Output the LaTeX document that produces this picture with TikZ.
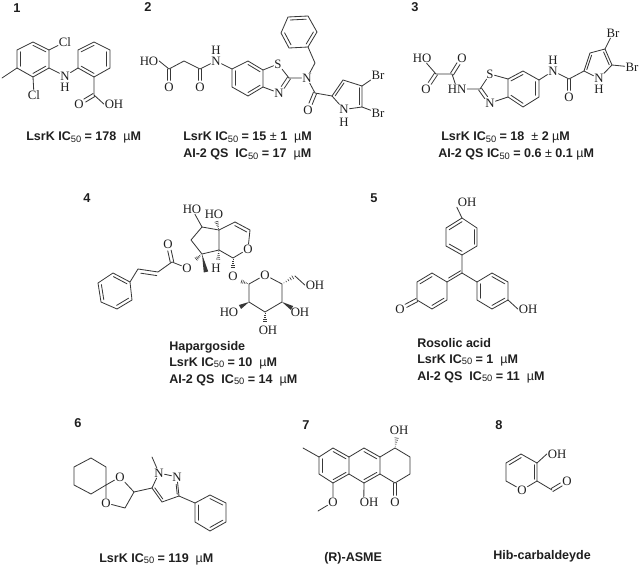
\documentclass[tikz,border=0pt]{standalone}
\usepackage{fontspec}
\setmainfont{Liberation Sans}
\newfontfamily\atomfont{Liberation Serif}
\usetikzlibrary{calc}
\definecolor{ink}{gray}{0.12}
\definecolor{bondc}{gray}{0.22}
\tikzset{
  bond/.style={draw=bondc,line width=0.62pt,line cap=round,line join=round},
  atom/.style={font=\atomfont\fontsize{9.6}{10}\selectfont,text=ink,inner sep=0.5pt},
  capt/.style={font=\bfseries\fontsize{9.4}{12}\selectfont,text=ink,anchor=base west,inner sep=0pt},
  num/.style={font=\bfseries\fontsize{9.6}{12}\selectfont,text=ink,inner sep=0pt}
}
\newcommand\icf{IC\raisebox{-.3ex}{\fontsize{7}{8}\selectfont\mdseries 50}}
\newcommand\um{{\mdseries µ}M}
\newcommand\pmm{{\mdseries ±}}
\newcommand\Pt[3]{\coordinate (#1) at (#2,#3);}
\newcommand\At[4]{\node[atom] (#1) at (#2,#3) {#4};}
% inner line of a double bond, toward reference point
\newcommand\Dbl[3]{\draw[bond] ($(#1)!0.2!(#3)$) -- ($(#2)!0.2!(#3)$);}
% double bond from a vertex to a hetero atom label
\newcommand\DO[2]{\draw[bond,shorten >=5pt] ($(#1)!1.3pt!90:(#2)$) -- ($(#2)!1.3pt!-90:(#1)$);
  \draw[bond,shorten >=5pt] ($(#1)!1.3pt!-90:(#2)$) -- ($(#2)!1.3pt!90:(#1)$);}
\newcommand\Wdg[2]{\fill[bondc] (#1) -- ($(#2)!1.7pt!90:(#1)$) -- ($(#2)!1.7pt!-90:(#1)$) -- cycle;}
\newcommand\Hsh[2]{\foreach \f in {0.15,0.32,0.49,0.66,0.83,1}{
  \draw[draw=bondc,line width=0.45pt] ($(#1)!\f!(#2)!{\f*1.8pt}!90:(#2)$) -- ($(#1)!\f!(#2)!{\f*1.8pt}!-90:(#2)$);}}
\begin{document}
\begin{tikzpicture}[x=0.75pt,y=-0.75pt]
\useasboundingbox (0,0) rectangle (640,567);
\fill[white] (0,0) rectangle (640,567);

%% ---------- numbers
\node[num] (n1) at (17,8) {1};
\node[num] (n2) at (148,7) {2};
\node[num] (n3) at (415,7) {3};
\node[num] (n4) at (87,198) {4};
\node[num] (n5) at (374,198) {5};
\node[num] (n6) at (78,423) {6};
\node[num] (n7) at (306,425) {7};
\node[num] (n8) at (499,425) {8};

%% ---------- compound 1
\Pt{a1}{17}{50}\Pt{a2}{33}{42}\Pt{a3}{49}{50}\Pt{a4}{49}{68}\Pt{a5}{33}{77}\Pt{a6}{17}{68}\Pt{ac}{33}{59}
\Pt{am}{2}{78}
\At{acl1}{65}{42}{Cl}\At{acl2}{34}{95}{Cl}\At{an}{65}{76}{N}\At{anh}{65}{87}{H}
\Pt{b1}{78}{68}\Pt{b2}{78}{50}\Pt{b3}{94}{42}\Pt{b4}{110}{50}\Pt{b5}{110}{68}\Pt{b6}{94}{77}\Pt{bc}{94}{59}
\Pt{bk}{94}{95}\At{bo}{79}{104}{O}\At{boh}{114}{104}{OH}
\draw[bond] (a1)--(a2)--(a3)--(a4)--(a5)--(a6)--cycle;
\Dbl{a2}{a3}{ac}\Dbl{a1}{a6}{ac}\Dbl{a4}{a5}{ac}
\draw[bond] (a6)--(am);
\draw[bond] (a3)--(acl1);\draw[bond] (a5)--(acl2);
\draw[bond] (a4)--(an)--(b1);
\draw[bond] (b1)--(b2)--(b3)--(b4)--(b5)--(b6)--cycle;
\Dbl{b2}{b3}{bc}\Dbl{b4}{b5}{bc}\Dbl{b1}{b6}{bc}
\draw[bond] (b6)--(bk)--(boh.west);
\DO{bk}{bo}
\node[capt] (t1a) at (26,141) {LsrK \icf{} = 178\ \ \um};

%% ---------- compound 2
\At{cho}{149}{61}{HO}\Pt{c1}{169}{69}\At{co1}{169}{87}{O}\Pt{c2}{184}{61}\Pt{c3}{200}{69}\At{co2}{200}{87}{O}
\At{cn}{216}{61}{N}\At{cnh}{216}{50}{H}
\Pt{d1}{232}{69}\Pt{d2}{248}{61}\Pt{d3}{263}{70}\Pt{d4}{263}{87}\Pt{d5}{248}{96}\Pt{d6}{232}{87}\Pt{dc}{248}{78.500}
\At{ds}{278}{64}{S}\Pt{d7}{289}{78}\At{dn}{279}{93}{N}\At{dn2}{307}{78}{N}
\Pt{d8}{315}{63}
\Pt{e1}{281}{33}\Pt{e2}{288}{17}\Pt{e3}{308}{16}\Pt{e4}{317}{32}\Pt{e5}{308}{47}\Pt{e6}{289}{48}\Pt{ec}{299}{32}
\Pt{f1}{315}{93}\At{fo}{308}{110}{O}
\Pt{g1}{332}{96}\Pt{g2}{343}{80}\Pt{g3}{362}{86}\Pt{g4}{362}{107}\At{gn}{344}{109.500}{N}\At{gnh}{344}{122}{H}\Pt{gc}{348}{95}
\At{gb1}{378}{75}{Br}\At{gb2}{378}{113}{Br}
\draw[bond] (cho.east)--(c1)--(c2)--(c3)--(cn)--(d1);
\DO{c1}{co1}\DO{c3}{co2}
\draw[bond] (d1)--(d2)--(d3)--(d4)--(d5)--(d6)--cycle;
\Dbl{d1}{d6}{dc}\Dbl{d2}{d3}{dc}\Dbl{d4}{d5}{dc}
\draw[bond] (d3)--(ds)--(d7);\draw[bond] (d4)--(dn);
\DO{d7}{dn}
\draw[bond] (d7)--(dn2)--(d8)--(e5);
\draw[bond] (e1)--(e2)--(e3)--(e4)--(e5)--(e6)--cycle;
\Dbl{e2}{e3}{ec}\Dbl{e4}{e5}{ec}\Dbl{e6}{e1}{ec}
\draw[bond] (dn2)--(f1)--(g1);
\DO{f1}{fo}
\draw[bond] (g1)--(g2)--(g3)--(g4)--(gn)--(g1);
\Dbl{g1}{g2}{gc}\Dbl{g3}{g4}{gc}
\draw[bond] (g3)--(gb1);\draw[bond] (g4)--(gb2);
\node[capt] (t2a) at (183,141) {LsrK \icf{} = 15 \pmm{} 1\ \ \um};
\node[capt] (t2b) at (183,158) {AI-2 QS\ \ \icf{} = 17\ \ \um};

%% ---------- compound 3
\At{hho}{422}{58}{HO}\Pt{h1}{436}{74}\At{ho1}{426}{89}{O}\Pt{h2}{452}{74}\At{ho2}{462}{58}{O}
\At{hn}{457}{89}{HN}\Pt{h3}{480}{89}\At{hs}{490}{74}{S}\At{hn2}{490}{103}{N}
\Pt{i1}{508}{79}\Pt{i2}{523}{71}\Pt{i3}{539}{80}\Pt{i4}{539}{97}\Pt{i5}{523}{107}\Pt{i6}{508}{97}\Pt{ic}{523}{88.500}
\At{in}{553}{71}{N}\At{inh}{553}{60}{H}\Pt{j1}{569}{79}\At{jo}{569}{97}{O}
\Pt{k1}{584}{71}\Pt{k2}{590}{53}\Pt{k3}{605}{49}\Pt{k4}{612}{65}\At{kn}{599}{78.500}{N}\At{knh}{599}{89.500}{H}\Pt{kc}{598}{64}
\At{kb1}{613}{33}{Br}\At{kb2}{632}{67}{Br}
\draw[bond] (hho)--(h1)--(h2)--(hn);
\DO{h1}{ho1}\DO{h2}{ho2}
\draw[bond] (hn.east)--(h3)--(hs)--(i1);
\DO{h3}{hn2}
\draw[bond] (hn2)--(i6);
\draw[bond] (i1)--(i2)--(i3)--(i4)--(i5)--(i6)--cycle;
\Dbl{i1}{i2}{ic}\Dbl{i3}{i4}{ic}\Dbl{i5}{i6}{ic}
\draw[bond] (i3)--(in)--(j1)--(k1);
\DO{j1}{jo}
\draw[bond] (k1)--(k2)--(k3)--(k4)--(kn)--(k1);
\Dbl{k1}{k2}{kc}\Dbl{k3}{k4}{kc}
\draw[bond] (k3)--(kb1);\draw[bond] (k4)--(kb2);
\node[capt] (t3a) at (441,141) {LsrK \icf{} = 18\ \ \pmm{} 2 \um};
\node[capt] (t3b) at (438,158) {AI-2 QS \icf{} = 0.6 \pmm{} 0.1 \um};

%% ---------- compound 4
\Pt{p1}{113}{273}\Pt{p2}{130}{282}\Pt{p3}{132}{300}\Pt{p4}{117}{309}\Pt{p5}{101}{302}\Pt{p6}{98}{283}\Pt{pc}{115}{291}
\Pt{q1}{138}{269}\Pt{q2}{158}{272}\Pt{q3}{172}{262}\At{qo}{168}{244}{O}\At{qo2}{187}{268}{O}
\Pt{r1}{202}{254}\Pt{rm}{206}{272}\Pt{r2}{191}{240}\Pt{r3}{202}{227}\At{rho}{192}{209}{HO}
\Pt{r4}{219}{230}\At{rho2}{214}{214}{HO}\Pt{r5}{219}{250}\At{rh}{216}{268}{H}
\Pt{s1}{233}{258}\At{so}{248}{249}{O}\Pt{s2}{250}{230}\Pt{s3}{235}{222}\Pt{sc}{234}{240}
\At{so2}{233}{276}{O}
\Pt{u1}{249}{284}\At{uo}{265}{275}{O}\Pt{u5}{282}{284}\Pt{u4}{282}{302}\Pt{u3}{265}{312}\Pt{u2}{249}{302}
\Pt{u6}{295}{276}\At{uoh}{315}{285}{OH}\At{uoh4}{300}{312}{OH}\At{uoh2}{229}{312}{HO}\At{uoh3}{268}{330}{OH}
\Pt{uw4}{292}{308}\Pt{uw2}{240}{307}\Pt{ue3}{265}{323}\Pt{us1}{233}{269}\Pt{us2}{240}{281}\Pt{ur4}{216}{220}\Pt{rhe}{218}{261}\Pt{ro}{195}{260}
\draw[bond] (p1)--(p2)--(p3)--(p4)--(p5)--(p6)--cycle;
\Dbl{p1}{p2}{pc}\Dbl{p3}{p4}{pc}\Dbl{p5}{p6}{pc}
\draw[bond] (p2)--(q1)--(q2)--(q3)--(qo2);
\Pt{qr}{152}{290}\Dbl{q1}{q2}{qr}
\DO{q3}{qo}
\draw[bond] (r1)--(r2)--(r3)--(r4)--(r5)--(r1);
\draw[bond] (r3)--(rho);
\Wdg{r1}{rm}
\Hsh{r1}{ro}
\draw[bond] (r4)--(s3);\draw[bond] (r5)--(s1)--(so)--(s2)--(s3);
\Dbl{s2}{s3}{sc}
\Hsh{r4}{ur4}\Hsh{r5}{rhe}\Hsh{s1}{us1}\Hsh{u1}{us2}
\draw[bond] (u1)--(uo)--(u5)--(u4)--(u3)--(u2)--(u1);
\Hsh{u5}{u6}
\draw[bond] (u6)--(uoh.west);
\Wdg{u4}{uw4}\Wdg{u2}{uw2}
\Hsh{u3}{ue3}
\node[capt] (t4a) at (169,350) {Hapargoside};
\node[capt] (t4b) at (169,366) {LsrK \icf{} = 10\ \ \um};
\node[capt] (t4c) at (169,383) {AI-2 QS\ \ \icf{} = 14\ \ \um};

%% ---------- compound 5
\At{voh}{467}{202}{OH}
\Pt{v1}{462}{218}\Pt{v2}{477}{228}\Pt{v3}{477}{246}\Pt{v4}{462}{255}\Pt{v5}{446}{246}\Pt{v6}{446}{228}\Pt{vc}{462}{236.500}
\Pt{v0}{462}{273}
\Pt{w1}{447}{282}\Pt{w2}{447}{300}\Pt{w3}{432}{309}\Pt{w4}{417}{300}\Pt{w5}{417}{282}\Pt{w6}{432}{273}\Pt{wc}{432}{291}\At{wo}{400}{309}{O}
\Pt{x1}{477}{282}\Pt{x2}{492}{273}\Pt{x3}{508}{282}\Pt{x4}{508}{300}\Pt{x5}{492}{309}\Pt{x6}{477}{300}\Pt{xc}{492}{291}\At{xoh}{528}{309}{OH}
\Pt{vr}{455}{262}
\draw[bond] (voh.south west)--(v1);
\draw[bond] (v1)--(v2)--(v3)--(v4)--(v5)--(v6)--cycle;
\Dbl{v1}{v6}{vc}\Dbl{v2}{v3}{vc}\Dbl{v4}{v5}{vc}
\draw[bond] (v4)--(v0)--(x1);
\draw[bond] (v0)--(w1);
\Dbl{v0}{w1}{vr}
\draw[bond] (w1)--(w2)--(w3)--(w4)--(w5)--(w6)--cycle;
\Dbl{w2}{w3}{wc}\Dbl{w5}{w6}{wc}
\DO{w4}{wo}
\draw[bond] (x1)--(x2)--(x3)--(x4)--(x5)--(x6)--cycle;
\Dbl{x2}{x3}{xc}\Dbl{x4}{x5}{xc}\Dbl{x6}{x1}{xc}
\draw[bond] (x4)--(xoh.west);
\node[capt] (t5a) at (417,347) {Rosolic acid};
\node[capt] (t5b) at (417,363) {LsrK \icf{} = 1\ \ \um};
\node[capt] (t5c) at (417,380) {AI-2 QS\ \ \icf{} = 11\ \ \um};

%% ---------- compound 6
\Pt{y1}{91}{458}\Pt{y2}{106}{467}\Pt{y3}{106}{485}\Pt{y4}{91}{494}\Pt{y5}{74}{485}\Pt{y6}{74}{467}
\At{yo1}{120}{477}{O}\At{yo2}{106}{503}{O}\Pt{y7}{134}{492}\Pt{y8}{125}{508}
\Pt{z1}{152}{488}\At{zn1}{159}{473}{N}\At{zn2}{177}{477}{N}\Pt{z3}{179}{496}\Pt{z4}{162}{502}\Pt{zm}{152}{457}\Pt{zc}{166}{487}
\Pt{o1}{195}{503}\Pt{o2}{210}{495}\Pt{o3}{226}{503}\Pt{o4}{226}{522}\Pt{o5}{210}{531}\Pt{o6}{195}{522}\Pt{oc}{210}{513}
\draw[bond] (y1)--(y2)--(y3)--(y4)--(y5)--(y6)--cycle;
\draw[bond] (y3)--(yo1)--(y7)--(y8)--(yo2)--(y3);
\draw[bond] (y7)--(z1)--(zn1)--(zn2);
\draw[bond] (zn1)--(zm);
\draw[bond] (zn2)--(z3)--(z4)--(z1);
\Pt{zd}{170}{487}\draw[bond,shorten <=4pt] ($(zn2)!0.2!(zd)$) -- ($(z3)!0.2!(zd)$);
\Dbl{z4}{z1}{zc}
\draw[bond] (z3)--(o1);
\draw[bond] (o1)--(o2)--(o3)--(o4)--(o5)--(o6)--cycle;
\Dbl{o2}{o3}{oc}\Dbl{o4}{o5}{oc}\Dbl{o6}{o1}{oc}
\node[capt] (t6a) at (99,562) {LsrK \icf{} = 119\ \ \um};

%% ---------- compound 7
\Pt{l0}{303}{448}\Pt{l1}{319}{457}\Pt{l2}{333}{448}\Pt{l3}{349}{457}\Pt{l4}{349}{474}\Pt{l5}{333}{483}\Pt{l6}{319}{474}\Pt{lc}{334}{466}
\Pt{m1}{364}{448}\Pt{m2}{380}{457}\Pt{m3}{380}{474}\Pt{m4}{364}{483}\Pt{mc}{364}{466}
\Pt{n11}{395}{448}\Pt{n12}{410}{457}\Pt{n13}{410}{474}\Pt{n14}{395}{483}
\At{noh}{399}{430}{OH}\Pt{nhe}{397}{436}\At{no}{395}{502}{O}\At{moh}{369}{502}{OH}
\At{lo}{333}{502}{O}\Pt{lm}{318}{511}
\draw[bond] (l0)--(l1)--(l2)--(l3)--(l4)--(l5)--(l6)--(l1);
\Dbl{l2}{l3}{lc}\Dbl{l1}{l6}{lc}\Dbl{l4}{l5}{lc}
\draw[bond] (l3)--(m1)--(m2)--(m3)--(m4)--(l4);
\Dbl{m1}{m2}{mc}\Dbl{m3}{m4}{mc}
\draw[bond] (m2)--(n11)--(n12)--(n13)--(n14)--(m3);
\Hsh{n11}{nhe}
\DO{n14}{no}
\draw[bond] (m4)--($(moh.north west)+(5,0)$);
\draw[bond] (l5)--(lo)--(lm);
\node[capt] (t7a) at (324,561) {(R)-ASME};

%% ---------- compound 8
\Pt{aa1}{521}{454}\Pt{aa2}{537}{463}\Pt{aa3}{537}{481}\At{aao}{522}{490}{O}\Pt{aa5}{506}{481}\Pt{aa6}{506}{463}\Pt{aac}{522}{472}
\At{aoh}{557}{454}{OH}\Pt{ab1}{552}{490}\At{abo}{567}{481}{O}
\draw[bond] (aa1)--(aa2)--(aa3)--(aao)--(aa5)--(aa6)--(aa1);
\Dbl{aa1}{aa6}{aac}\Dbl{aa2}{aa3}{aac}
\draw[bond] (aa2)--(aoh.west);
\draw[bond] (aa3)--(ab1);
\DO{ab1}{abo}
\node[capt] (t8a) at (493,559) {Hib-carbaldeyde};
\end{tikzpicture}
\end{document}
